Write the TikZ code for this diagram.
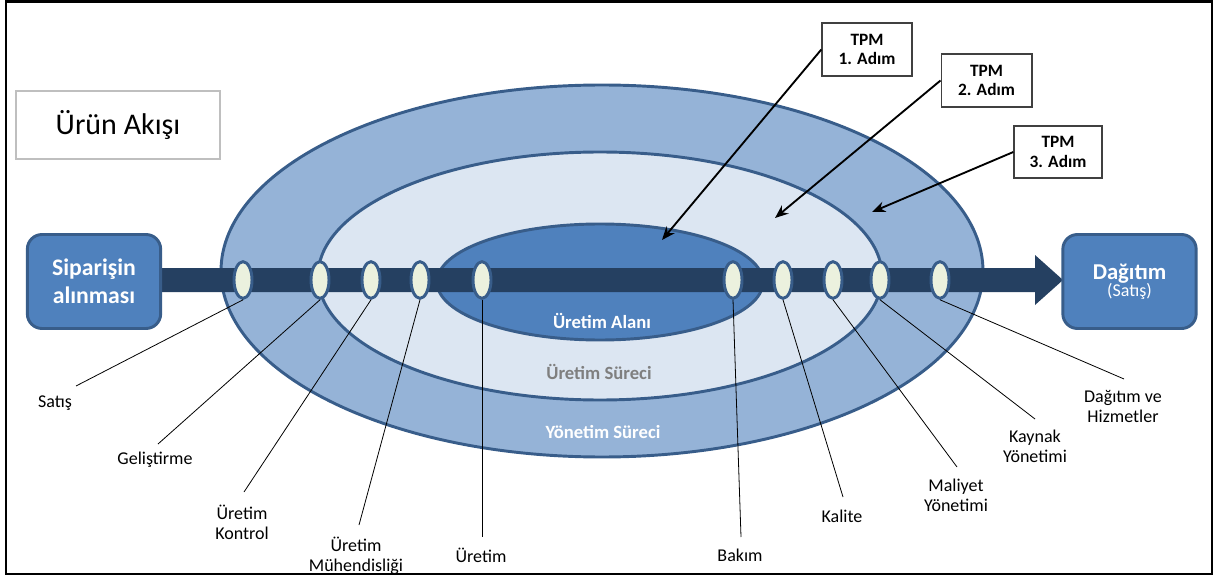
\documentclass[tikz,border=0pt]{standalone}
\usepackage{fontspec}
\setmainfont{Carlito}
\usetikzlibrary{arrows.meta,shapes.geometric}
\definecolor{ringA}{HTML}{95B3D7}
\definecolor{ringB}{HTML}{DCE6F2}
\definecolor{ringC}{HTML}{4F81BD}
\definecolor{edgeblue}{HTML}{385D8A}
\definecolor{navy}{HTML}{254061}
\definecolor{pale}{HTML}{EBF1DE}
\definecolor{greytext}{HTML}{7F7F7F}
\tikzset{
  ring/.style={draw=edgeblue,line width=2.2pt},
  bigbox/.style={draw=edgeblue,fill=ringC,line width=2.2pt,rounded corners=11pt,
    minimum width=100pt,minimum height=70.5pt,inner sep=0pt,text=white,align=center},
  stop/.style={ellipse,draw=edgeblue,fill=pale,line width=2.2pt,minimum width=13.5pt,
    minimum height=27.5pt,inner sep=0pt},
  tpmbox/.style={draw=black!75,line width=1pt,fill=white,inner sep=0pt,align=center,
    font=\fontsize{13}{14.5}\selectfont\bfseries},
  lab/.style={align=center,inner sep=0pt,font=\fontsize{13.5}{15}\selectfont},
  leader/.style={draw=black,line width=0.6pt},
  tpmarrow/.style={draw=black,line width=1.4pt,-{Stealth[length=10pt,width=8pt]}},
  ringtext/.style={font=\fontsize{14}{16}\selectfont\bfseries,inner sep=0pt}
}
\begin{document}
\begin{tikzpicture}[x=0.75pt,y=-0.75pt]
\useasboundingbox (0,0) rectangle (1216,577);
% frame
\draw[line width=1.8pt] (6,1.5) rectangle (1212,574);
% rings
\draw[ring,fill=ringA] (602,271) ellipse [x radius=381,y radius=186];
\draw[ring,fill=ringB] (600,276) ellipse [x radius=282,y radius=124];
\draw[ring,fill=ringC] (600,282) ellipse [x radius=163,y radius=58];
% flow arrow
\fill[navy] (150,268) -- (1035,268) -- (1035,255) -- (1063,280) -- (1035,305) -- (1035,292) -- (150,292) -- cycle;
% boxes
\node[bigbox,font=\fontsize{17.8}{21}\selectfont\bfseries] (sip) at (94,281.5) {Siparişin\\alınması};
\node[bigbox] (dag) at (1129.5,281.5) {{\fontsize{17}{18}\selectfont\bfseries Dağıtım}\\[-1pt]{\fontsize{13.5}{14}\selectfont (Satış)}};
\node[draw=black!25,line width=0.8pt,minimum width=153pt,minimum height=51pt,inner sep=0pt,
  font=\fontsize{22.5}{26}\selectfont] (urun) at (118,125) {Ürün Akışı};
% ring labels
\node[ringtext,text=white] (alan) at (602,321) {Üretim Alanı};
\node[ringtext,text=greytext] (surec) at (599,372) {Üretim Süreci};
\node[ringtext,text=white] (yonetim) at (603,432) {Yönetim Süreci};
% stops
\foreach \n/\x in {e1/243,e2/320,e3/371,e4/420,e5/482,e6/733,e7/783,e8/833,e9/880,e10/940}
  \node[stop] (\n) at (\x,280) {};
% labels
\node[lab] (l1) at (55,403) {Satış};
\node[lab] (l2) at (155,460) {Geliştirme};
\node[lab] (l3) at (242,522) {Üretim\\Kontrol};
\node[lab] (l4) at (356,556) {Üretim\\Mühendisliği};
\node[lab] (l5) at (481,555) {Üretim};
\node[lab] (l6) at (740,555) {Bakım};
\node[lab] (l7) at (842,516) {Kalite};
\node[lab] (l8) at (956,495) {Maliyet\\Yönetimi};
\node[lab] (l9) at (1035,446) {Kaynak\\Yönetimi};
\node[lab] (l10) at (1123,406) {Dağıtım ve\\Hizmetler};
% leader ends
\coordinate (c1) at (76,386);
\coordinate (c2) at (158,444);
\coordinate (c3) at (244,492);
\coordinate (c4) at (359,525);
\coordinate (c5) at (482,537);
\coordinate (c6) at (741,537);
\coordinate (c7) at (843,497);
\coordinate (c8) at (957,467);
\coordinate (c9) at (1035,419);
\coordinate (c10) at (1124,379);
\foreach \i in {1,...,10}
  \draw[leader] (e\i.south) -- (c\i);
% TPM boxes
\node[tpmbox,minimum width=67.5pt,minimum height=39.75pt] (t1) at (867,49.5) {TPM\\1. Adım};
\node[tpmbox,minimum width=68pt,minimum height=39.75pt] (t2) at (986.5,80.5) {TPM\\2. Adım};
\node[tpmbox,minimum width=66pt,minimum height=39pt] (t3) at (1058,152) {TPM\\3. Adım};
\coordinate (a1) at (662,240);
\coordinate (a2) at (775,218);
\coordinate (a3) at (872,212);
\draw[tpmarrow] (t1.west) -- (a1);
\draw[tpmarrow] (t2.west) -- (a2);
\draw[tpmarrow] (t3.west) -- (a3);
\end{tikzpicture}
\end{document}
